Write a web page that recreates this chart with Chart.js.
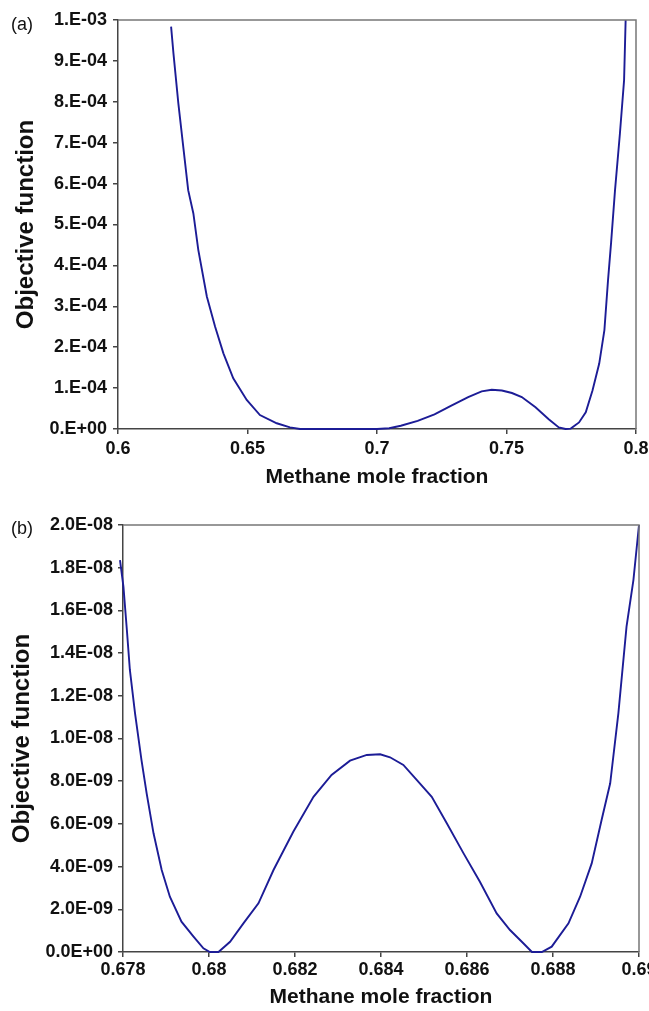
<!DOCTYPE html>
<html><head><meta charset="utf-8">
<script src="https://cdn.jsdelivr.net/npm/chart.js@4.4.1/dist/chart.umd.min.js"></script>
<style>
html,body{margin:0;padding:0;width:649px;height:1011px;overflow:hidden;background:#fff;}
.box{position:absolute;left:0;width:680px;}
.lab{position:absolute;left:11px;font:18px "Liberation Sans",Arial,sans-serif;line-height:20px;color:#111;}
</style></head><body>
<div class="box" style="top:0;height:500px"><canvas id="ca"></canvas></div>
<div class="box" style="top:500px;height:511px"><canvas id="cb"></canvas></div>
<div class="lab" style="top:14px">(a)</div>
<div class="lab" style="top:518px">(b)</div>
<script>
// ---- Panel (a) data ----
const xA = [0.6205, 0.6214, 0.6233, 0.6252, 0.6271, 0.6291, 0.6310, 0.6343, 0.6375, 0.6407, 0.6445, 0.6497, 0.6548, 0.6613, 0.6664, 0.6703, 0.6800, 0.6900, 0.7000, 0.7047, 0.7092, 0.7157, 0.7222, 0.7287, 0.7352, 0.7404, 0.7443, 0.7482, 0.7521, 0.7559, 0.7612, 0.7663, 0.7702, 0.7728, 0.7748, 0.7780, 0.7806, 0.7832, 0.7858, 0.7878, 0.7892, 0.7904, 0.7919, 0.7938, 0.7954, 0.7960];
const yA = [9.84e-4, 9.19e-4, 7.96e-4, 6.90e-4, 5.84e-4, 5.27e-4, 4.38e-4, 3.24e-4, 2.50e-4, 1.85e-4, 1.24e-4, 7.1e-5, 3.4e-5, 1.4e-5, 4e-6, 0, 0, 0, 0, 2e-6, 8e-6, 2.0e-5, 3.6e-5, 5.7e-5, 7.8e-5, 9.2e-5, 9.6e-5, 9.4e-5, 8.8e-5, 7.8e-5, 5.3e-5, 2.4e-5, 4e-6, 0, 1e-6, 1.6e-5, 4.1e-5, 9.4e-5, 1.6e-4, 2.42e-4, 3.64e-4, 4.57e-4, 5.84e-4, 7.23e-4, 8.53e-4, 1.0e-3];
const xTickValsA = [0.6, 0.65, 0.7, 0.75, 0.8];
const xTickLabelsA = ['0.6', '0.65', '0.7', '0.75', '0.8'];
const yTickValsA = [0, 1e-4, 2e-4, 3e-4, 4e-4, 5e-4, 6e-4, 7e-4, 8e-4, 9e-4, 1e-3];
const yTickLabelsA = ['0.E+00', '1.E-04', '2.E-04', '3.E-04', '4.E-04', '5.E-04', '6.E-04', '7.E-04', '8.E-04', '9.E-04', '1.E-03'];

// ---- Panel (b) data ----
const xB = [0.67793, 0.67801, 0.67809, 0.67816, 0.67828, 0.67843, 0.67855, 0.67871, 0.67890, 0.67909, 0.67936, 0.67964, 0.67987, 0.68002, 0.68022, 0.68049, 0.68080, 0.68115, 0.68150, 0.68196, 0.68243, 0.68285, 0.68328, 0.68367, 0.68398, 0.68421, 0.68452, 0.68483, 0.68518, 0.68553, 0.68592, 0.68630, 0.68669, 0.68700, 0.68731, 0.68751, 0.68774, 0.68797, 0.68836, 0.68863, 0.68890, 0.68913, 0.68933, 0.68952, 0.68971, 0.68987, 0.69000];
const yB = [1.836e-8, 1.711e-8, 1.508e-8, 1.321e-8, 1.118e-8, 8.99e-9, 7.43e-9, 5.56e-9, 3.84e-9, 2.59e-9, 1.42e-9, 7.2e-10, 1.7e-10, 0, 0, 4.8e-10, 1.34e-9, 2.28e-9, 3.84e-9, 5.63e-9, 7.27e-9, 8.29e-9, 8.96e-9, 9.23e-9, 9.26e-9, 9.12e-9, 8.76e-9, 8.06e-9, 7.27e-9, 6.03e-9, 4.62e-9, 3.29e-9, 1.81e-9, 1.03e-9, 4.1e-10, 0, 0, 2.5e-10, 1.34e-9, 2.59e-9, 4.15e-9, 6.18e-9, 7.9e-9, 1.118e-8, 1.524e-8, 1.742e-8, 2.0e-8];
const xTickValsB = [0.678, 0.680, 0.682, 0.684, 0.686, 0.688, 0.690];
const xTickLabelsB = ['0.678', '0.68', '0.682', '0.684', '0.686', '0.688', '0.69'];
const yTickValsB = [0, 2e-9, 4e-9, 6e-9, 8e-9, 1e-8, 1.2e-8, 1.4e-8, 1.6e-8, 1.8e-8, 2e-8];
const yTickLabelsB = ['0.0E+00', '2.0E-09', '4.0E-09', '6.0E-09', '8.0E-09', '1.0E-08', '1.2E-08', '1.4E-08', '1.6E-08', '1.8E-08', '2.0E-08'];

const FONT = '"Liberation Sans", Arial, sans-serif';
const LINE_COLOR = '#1c1c96';
const AXIS_COLOR = '#444';
const FRAME_COLOR = '#777';

const framePlugin = {
  id: 'frame',
  afterDraw(chart) {
    const {ctx, chartArea: a} = chart;
    ctx.save();
    ctx.strokeStyle = FRAME_COLOR;
    ctx.lineWidth = 1.5;
    ctx.beginPath();
    ctx.moveTo(a.left, a.top);
    ctx.lineTo(a.right, a.top);
    ctx.lineTo(a.right, a.bottom);
    ctx.stroke();
    ctx.restore();
  }
};

function build(id, p) {
  return new Chart(document.getElementById(id), {
    type: 'line',
    data: {
      datasets: [{
        data: p.xs.map((x, i) => ({x: x, y: p.ys[i]})),
        borderColor: LINE_COLOR,
        borderWidth: 1.9,
        pointRadius: 0,
        tension: 0,
        fill: false,
        clip: false
      }]
    },
    options: {
      responsive: true,
      maintainAspectRatio: false,
      animation: false,
      devicePixelRatio: 1,
      layout: {padding: {top: p.padTop, right: p.padRight, left: 0, bottom: 0}},
      plugins: {legend: {display: false}, tooltip: {enabled: false}},
      scales: {
        x: {
          type: 'linear', min: p.xMin, max: p.xMax,
          afterFit(s) { s.height = p.xAxisH; },
          afterBuildTicks(s) { s.ticks = p.xTickVals.map(v => ({value: v})); },
          ticks: {
            callback: (v, i) => p.xTickLabels[i],
            font: {family: FONT, size: 18, weight: 'bold'},
            color: '#111', padding: p.xTickPad, maxRotation: 0, autoSkip: false
          },
          grid: {drawOnChartArea: false, drawTicks: true, tickLength: 5, color: AXIS_COLOR, lineWidth: 1.5},
          border: {color: AXIS_COLOR, width: 1.5},
          title: {
            display: true, text: 'Methane mole fraction',
            font: {family: FONT, size: 21, weight: 'bold'}, color: '#111',
            padding: {top: 0, bottom: p.xTitlePadB}
          }
        },
        y: {
          type: 'linear', min: p.yMin, max: p.yMax,
          afterFit(s) { s.width = p.yAxisW; },
          afterBuildTicks(s) { s.ticks = p.yTickVals.map(v => ({value: v})); },
          ticks: {
            callback: (v, i) => p.yTickLabels[i],
            font: {family: FONT, size: 18, weight: 'bold'},
            color: '#111', padding: p.yTickPad, autoSkip: false
          },
          grid: {drawOnChartArea: false, drawTicks: true, tickLength: 5, color: AXIS_COLOR, lineWidth: 1.5},
          border: {color: AXIS_COLOR, width: 1.5},
          title: {
            display: true, text: 'Objective function',
            font: {family: FONT, size: 24, weight: 'bold'}, color: '#111',
            padding: {top: p.yTitlePadT, bottom: 0}
          }
        }
      }
    },
    plugins: [framePlugin]
  });
}

build('ca', {
  xs: xA, ys: yA,
  xMin: 0.6, xMax: 0.8, yMin: 0, yMax: 1e-3,
  xTickVals: xTickValsA, xTickLabels: xTickLabelsA,
  yTickVals: yTickValsA, yTickLabels: yTickLabelsA,
  padTop: 20, padRight: 44, xAxisH: 71, yAxisW: 118,
  xTickPad: 4, xTitlePadB: 10, yTickPad: 6, yTitlePadT: 12
});

build('cb', {
  xs: xB, ys: yB,
  xMin: 0.678, xMax: 0.690, yMin: 0, yMax: 2e-8,
  xTickVals: xTickValsB, xTickLabels: xTickLabelsB,
  yTickVals: yTickValsB, yTickLabels: yTickLabelsB,
  padTop: 25, padRight: 41, xAxisH: 59, yAxisW: 123,
  xTickPad: 2, xTitlePadB: 1, yTickPad: 5, yTitlePadT: 8
});
</script>
</body></html>
